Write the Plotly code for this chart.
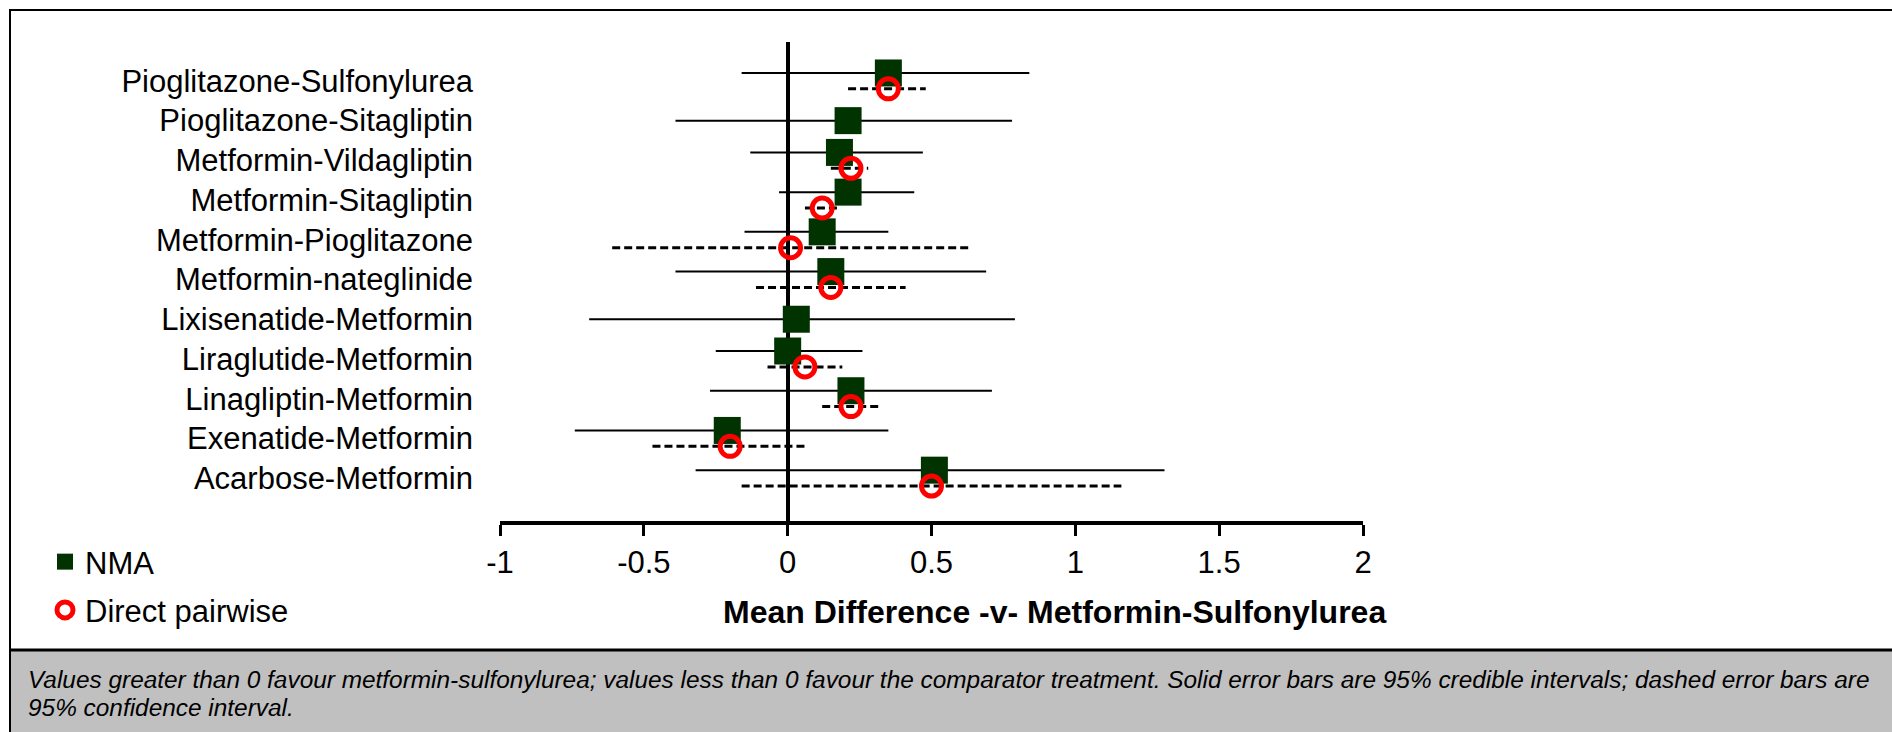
import plotly.graph_objects as go

# comparisons, top to bottom
labels = ["Pioglitazone-Sulfonylurea", "Pioglitazone-Sitagliptin", "Metformin-Vildagliptin",
          "Metformin-Sitagliptin", "Metformin-Pioglitazone", "Metformin-nateglinide",
          "Lixisenatide-Metformin", "Liraglutide-Metformin", "Linagliptin-Metformin",
          "Exenatide-Metformin", "Acarbose-Metformin"]

# NMA: mean difference and 95% credible interval
nma_mean = [0.35, 0.21, 0.18, 0.21, 0.12, 0.15, 0.03, 0.00, 0.22, -0.21, 0.51]
nma_lo = [-0.16, -0.39, -0.13, -0.03, -0.15, -0.39, -0.69, -0.25, -0.27, -0.74, -0.32]
nma_hi = [0.84, 0.78, 0.47, 0.44, 0.35, 0.69, 0.79, 0.26, 0.71, 0.35, 1.31]

# direct pairwise: mean difference and 95% confidence interval (None = no direct evidence)
direct_mean = [0.35, None, 0.22, 0.12, 0.01, 0.15, None, 0.06, 0.22, -0.20, 0.50]
direct_lo = [0.21, None, 0.15, 0.06, -0.61, -0.11, None, -0.07, 0.12, -0.47, -0.16]
direct_hi = [0.48, None, 0.28, 0.18, 0.63, 0.41, None, 0.19, 0.32, 0.07, 1.16]

x_ticks = [-1, -0.5, 0, 0.5, 1, 1.5, 2]
x_title = "Mean Difference -v- Metformin-Sulfonylurea"
footnote = ["Values greater than 0 favour metformin-sulfonylurea; values less than 0 favour the comparator "
            "treatment. Solid error bars are 95% credible intervals; dashed error bars are",
            "95% confidence interval."]

FONT = "Liberation Sans, Arial, sans-serif"
OFF = 0.2  # vertical offset when both estimates are shown

n = len(labels)
rows = [n - 1 - i for i in range(n)]

# y positions of each estimate
nma_y, dir_y = [], []
for i in range(n):
    if direct_mean[i] is None:
        nma_y.append(rows[i])
        dir_y.append(None)
    else:
        nma_y.append(rows[i] + OFF)
        dir_y.append(rows[i] - OFF)

solid_x, solid_y = [], []
for i in range(n):
    solid_x += [nma_lo[i], nma_hi[i], None]
    solid_y += [nma_y[i], nma_y[i], None]

dash_x, dash_y, dm_x, dm_y = [], [], [], []
for i in range(n):
    if direct_mean[i] is None:
        continue
    dash_x += [direct_lo[i], direct_hi[i], None]
    dash_y += [dir_y[i], dir_y[i], None]
    dm_x.append(direct_mean[i])
    dm_y.append(dir_y[i])

fig = go.Figure()
fig.add_trace(go.Scatter(x=solid_x, y=solid_y, mode="lines", line=dict(color="black", width=2),
                         showlegend=False, hoverinfo="skip"))
fig.add_trace(go.Scatter(x=dash_x, y=dash_y, mode="lines", line=dict(color="black", width=3, dash="8px,4px"),
                         showlegend=False, hoverinfo="skip"))
fig.add_trace(go.Scatter(x=nma_mean, y=nma_y, mode="markers", name="NMA", legendgroup="a",
                         marker=dict(symbol="square", size=27, color="#003300")))
fig.add_trace(go.Scatter(x=dm_x, y=dm_y, mode="markers", name="Direct pairwise", legendgroup="b",
                         marker=dict(symbol="circle-open", size=20, color="#FF0000", line=dict(width=5))))

# pixel helpers for placing furniture outside the plot area
L, R, T, B = 500, 1363, 42, 521
def px(x):
    return (x - L) / (R - L)
def py(y):
    return (B - y) / (B - T)

fig.update_layout(
    width=1892, height=732,
    margin=dict(l=L, r=1892 - R, t=T, b=732 - B),
    paper_bgcolor="white", plot_bgcolor="white",
    font=dict(family=FONT, size=31, color="black"),
    xaxis=dict(range=[-1, 2], tickvals=x_ticks, ticktext=[f"{v:g}" for v in x_ticks],
               showgrid=False, showline=True, linewidth=4, linecolor="black",
               ticks="outside", ticklen=11, tickwidth=3, tickcolor="black",
               zeroline=True, zerolinewidth=4, zerolinecolor="black",
               tickfont=dict(size=31)),
    yaxis=dict(range=[-1.08, 10.98], tickvals=rows, ticktext=labels, showgrid=False,
               showline=False, zeroline=False, ticks="", ticklabelstandoff=26,
               tickfont=dict(size=31)),
    legend=dict(x=px(45), y=py(535), xanchor="left", yanchor="top", font=dict(size=31),
                tracegroupgap=5, bgcolor="rgba(0,0,0,0)"),
    shapes=[
        dict(type="rect", xref="paper", yref="paper", x0=px(11), x1=px(1900), y0=py(740), y1=py(650),
             fillcolor="#C0C0C0", line=dict(width=0), layer="below"),
        dict(type="rect", xref="paper", yref="paper", x0=px(10), x1=px(1900), y0=py(740), y1=py(10),
             line=dict(color="black", width=2), layer="below"),
        dict(type="line", xref="paper", yref="paper", x0=px(10), x1=px(1900), y0=py(650), y1=py(650),
             line=dict(color="black", width=3)),
    ],
    annotations=[
        dict(text="<b>" + x_title + "</b>", xref="paper", yref="paper", x=px(1054), y=py(612),
             xanchor="center", yanchor="middle", showarrow=False, font=dict(size=32)),
        dict(text=footnote[0], xref="paper", yref="paper", x=px(26), y=py(679), xanchor="left",
             yanchor="middle", showarrow=False, font=dict(size=24.4, style="italic")),
        dict(text=footnote[1], xref="paper", yref="paper", x=px(26), y=py(707), xanchor="left",
             yanchor="middle", showarrow=False, font=dict(size=24.4, style="italic")),
    ],
)

fig.write_html("out.html", config={"displayModeBar": False},
               post_script="document.body.style.margin='0px';")
